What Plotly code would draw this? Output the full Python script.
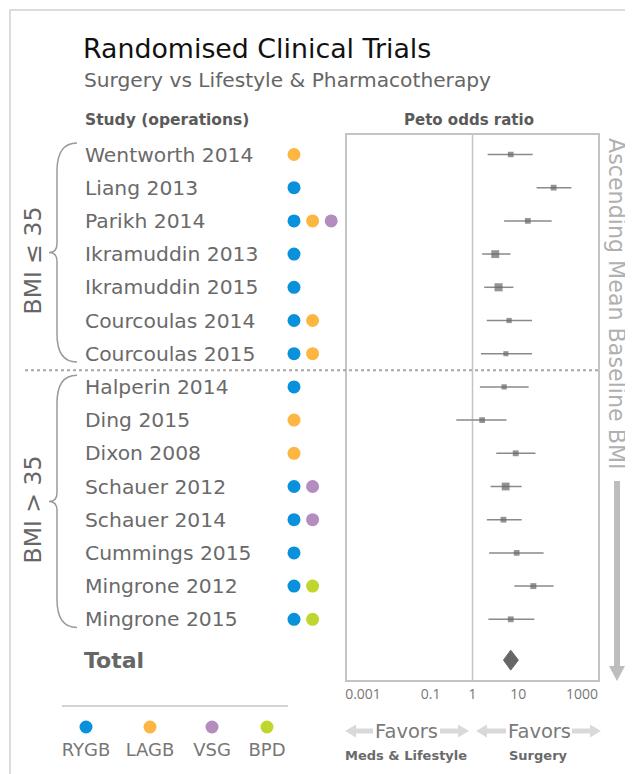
import plotly.graph_objects as go

# ---------------- data ----------------
studies = ["Wentworth 2014", "Liang 2013", "Parikh 2014", "Ikramuddin 2013",
           "Ikramuddin 2015", "Courcoulas 2014", "Courcoulas 2015",
           "Halperin 2014", "Ding 2015", "Dixon 2008", "Schauer 2012",
           "Schauer 2014", "Cummings 2015", "Mingrone 2012", "Mingrone 2015"]
operations = [["LAGB"], ["RYGB"], ["RYGB", "LAGB", "VSG"], ["RYGB"], ["RYGB"],
              ["RYGB", "LAGB"], ["RYGB", "LAGB"], ["RYGB"], ["LAGB"], ["LAGB"],
              ["RYGB", "VSG"], ["RYGB", "VSG"], ["RYGB"], ["RYGB", "BPD"],
              ["RYGB", "BPD"]]
odds_ratio = [8.2, 87, 21, 3.5, 4.2, 7.5, 6.3, 5.7, 1.7, 10.8, 6.2, 5.5, 11.4, 28.5, 8.2]
ci_low = [2.3, 34, 5.7, 1.7, 1.9, 2.2, 1.6, 1.5, 0.41, 3.7, 2.7, 2.2, 2.5, 10, 2.4]
ci_high = [27.5, 230, 78, 8.1, 9.5, 26.5, 26.5, 22, 6.5, 32, 15, 15, 50, 87, 30]
weight = [6.0, 6.2, 6.1, 9.5, 9.8, 5.2, 5.0, 5.3, 6.0, 6.3, 9.4, 6.1, 6.0, 6.4, 6.2]
total_label = "Total"
total_or = 8.2
total_low = 5.5
total_high = 12.5
op_types = ["RYGB", "LAGB", "VSG", "BPD"]
op_colors = {"RYGB": "#0a91dc", "LAGB": "#fdb641", "VSG": "#b48cc0", "BPD": "#c0d62f"}
groups = ["BMI ≤ 35", "BMI > 35"]
group_size = [7, 8]
tick_vals = [0.001, 0.1, 1, 10, 1000]
tick_text = ["\u2007\u2007\u2007\u20070.001", "0.1", "1", "\u200710", "1000\u2007\u2007\u2007\u2007"]

FONT = "DejaVu Sans"
TICKFONT = "Open Sans"
W, H = 633, 774
OFF = 8  # page offset of the figure on screen


def px(x):
    return (x - OFF) / W


def py(y):
    return 1 - (y - OFF) / H


n = len(studies)
rows = list(range(n))
total_row = n + 0.23
row0_px, row_h = 154.5, 33.2
box_top, box_bot, box_l, box_r = 134.5, 680, 347, 598
y_top = (box_top - row0_px) / row_h
y_bot = (box_bot - row0_px) / row_h

fig = go.Figure()

# reference line at OR = 1
fig.add_trace(go.Scatter(x=[1, 1], y=[-10, 30], mode="lines",
                         line=dict(color="#c4c4c4", width=1.5),
                         hoverinfo="skip", showlegend=False))

# study estimates with CIs
fig.add_trace(go.Scatter(
    x=odds_ratio, y=rows, mode="markers",
    marker=dict(symbol="square", color="#666666",
                size=[2 + 0.62 * w for w in weight], line=dict(width=0)),
    error_x=dict(type="data", symmetric=False,
                 array=[h - e for h, e in zip(ci_high, odds_ratio)],
                 arrayminus=[e - l for e, l in zip(odds_ratio, ci_low)],
                 color="#8a8a8a", thickness=1.5, width=0),
    showlegend=False, hoverinfo="skip"))

# pooled diamond
dh = 0.3
fig.add_trace(go.Scatter(
    x=[total_low, total_or, total_high, total_or, total_low],
    y=[total_row, total_row - dh, total_row, total_row + dh, total_row],
    mode="lines", fill="toself", fillcolor="#666666",
    line=dict(color="#666666", width=1), showlegend=False, hoverinfo="skip"))

# operation dots per study
for op in op_types:
    xs, ys = [], []
    for i, ops in enumerate(operations):
        if op in ops:
            xs.append(ops.index(op))
            ys.append(i)
    fig.add_trace(go.Scatter(x=xs, y=ys, xaxis="x3", yaxis="y", mode="markers",
                             marker=dict(color=op_colors[op], size=13),
                             showlegend=False, hoverinfo="skip"))

# legend (operations key)
leg_x = [86, 150, 212, 267]
fig.add_trace(go.Scatter(x=leg_x, y=[727] * 4, xaxis="x2", yaxis="y2",
                         mode="markers",
                         marker=dict(color=[op_colors[o] for o in op_types], size=13),
                         showlegend=False, hoverinfo="skip"))
fig.add_trace(go.Scatter(x=leg_x, y=[751] * 4, xaxis="x2", yaxis="y2",
                         mode="text", text=op_types,
                         textfont=dict(family=FONT, size=18, color="#777777"),
                         showlegend=False, hoverinfo="skip"))

annotations = []
shapes = []

# study labels
for i, s in enumerate(studies):
    annotations.append(dict(xref="paper", yref="y", x=px(83), y=i, text=s,
                            xanchor="left", yanchor="middle", showarrow=False,
                            font=dict(family=FONT, size=20.3, color="#6a6a6a")))
annotations.append(dict(xref="paper", yref="y", x=px(82), y=total_row,
                        text="<b>" + total_label + "</b>",
                        xanchor="left", yanchor="middle", showarrow=False,
                        font=dict(family=FONT, size=22, color="#666666")))


def txt(x, y, text, size, color, anchor="left", bold=False, angle=0):
    return dict(xref="paper", yref="paper", x=px(x), y=py(y),
                text=("<b>%s</b>" % text) if bold else text, textangle=angle,
                xanchor=anchor, yanchor="middle", showarrow=False,
                font=dict(family=FONT, size=size, color=color))


annotations += [
    txt(81, 48, "Randomised Clinical Trials", 26.8, "#111111"),
    txt(82, 80, "Surgery vs Lifestyle &amp; Pharmacotherapy", 20.2, "#666666"),
    txt(83, 120, "Study (operations)", 15.5, "#5a5a5a", bold=True),
    txt(469, 120, "Peto odds ratio", 15, "#5a5a5a", anchor="center", bold=True),
    txt(617, 304, "Ascending Mean Baseline BMI", 22.2, "#b0b0b0", anchor="center", angle=90),
    txt(406, 731, "Favors", 19.5, "#7a7a7a", anchor="center"),
    txt(539, 731, "Favors", 19.5, "#7a7a7a", anchor="center"),
    txt(406, 755, "Meds &amp; Lifestyle", 13, "#6a6a6a", anchor="center", bold=True),
    txt(538, 755, "Surgery", 13, "#6a6a6a", anchor="center", bold=True),
]

# group labels and braces
start = 0
for g, size in zip(groups, group_size):
    r0, r1 = start - 0.35, start + size - 1 + 0.25
    y0 = row0_px + row_h * r0
    y1 = row0_px + row_h * r1
    ym = (y0 + y1) / 2
    annotations.append(txt(33, ym + 8, g, 23.5, "#666666", anchor="center", angle=-90))
    xe, xm, xt, r, r2 = 77, 57, 49, 28, 9
    path = (f"M {xe},{y0} Q {xm},{y0} {xm},{y0 + r} L {xm},{ym - r2} "
            f"Q {xm},{ym} {xt},{ym} Q {xm},{ym} {xm},{ym + r2} "
            f"L {xm},{y1 - r} Q {xm},{y1} {xe},{y1}")
    shapes.append(dict(type="path", xref="x2", yref="y2", path=path,
                       line=dict(color="#9a9a9a", width=1.5)))
    start += size

# dotted separator between groups
shapes.append(dict(type="line", xref="paper", yref="y",
                   x0=px(25), x1=px(600), y0=group_size[0] - 0.5, y1=group_size[0] - 0.5,
                   line=dict(color="#a8a8a8", width=2, dash="dot")))

# outer frame
shapes.append(dict(type="rect", xref="x2", yref="y2", x0=10, x1=629, y0=10, y1=800,
                   line=dict(color="#dcdcdc", width=2)))
# legend separator
shapes.append(dict(type="line", xref="x2", yref="y2", x0=62, x1=288, y0=706, y1=706,
                   line=dict(color="#d4d4d4", width=2)))


def h_arrow(x_tail, x_tip, y, shaft=2.6, head_len=11, head_half=6.5):
    d = 1 if x_tip > x_tail else -1
    xb = x_tip - d * head_len
    return (f"M {x_tail},{y - shaft} L {xb},{y - shaft} L {xb},{y - head_half} "
            f"L {x_tip},{y} L {xb},{y + head_half} L {xb},{y + shaft} "
            f"L {x_tail},{y + shaft} Z")


arrow_col = "#d9d9d9"
for tail, tip in [(373, 345), (440, 469), (506, 476), (572, 601)]:
    shapes.append(dict(type="path", xref="x2", yref="y2", path=h_arrow(tail, tip, 731),
                       fillcolor=arrow_col, line=dict(width=0)))

# vertical arrow on the right
vx, vy0, vy1 = 617, 481, 681
shapes.append(dict(type="path", xref="x2", yref="y2",
                   path=(f"M {vx - 3},{vy0} L {vx + 3},{vy0} L {vx + 3},{vy1 - 15} "
                         f"L {vx + 8},{vy1 - 15} L {vx},{vy1} L {vx - 8},{vy1 - 15} "
                         f"L {vx - 3},{vy1 - 15} Z"),
                   fillcolor="#bdbdbd", line=dict(width=0)))

fig.update_layout(
    width=W, height=H, autosize=False, margin=dict(l=0, r=0, t=0, b=0, autoexpand=False),
    paper_bgcolor="white", plot_bgcolor="rgba(0,0,0,0)",
    font=dict(family=FONT), showlegend=False,
    xaxis=dict(type="log", range=[-3, 3], domain=[px(box_l), px(box_r)], anchor="y",
               tickvals=tick_vals, ticktext=tick_text, showgrid=False, zeroline=False,
               showline=True, mirror=True, linecolor="#c4c4c4", linewidth=1.5,
               ticks="", automargin=False,
               tickfont=dict(family=TICKFONT, size=14, color="#777777")),
    yaxis=dict(range=[y_bot, y_top], domain=[py(box_bot), py(box_top)], anchor="x",
               showgrid=False, zeroline=False, showticklabels=False, ticks="",
               showline=True, mirror=True, linecolor="#c4c4c4", linewidth=1.5,
               automargin=False),
    xaxis2=dict(range=[OFF, OFF + W], domain=[0, 1], anchor="y2", visible=False,
                automargin=False),
    yaxis2=dict(range=[OFF + H, OFF], domain=[0, 1], anchor="x2", visible=False,
                automargin=False),
    xaxis3=dict(range=[(270 - 294) / 18.6, (345 - 294) / 18.6],
                domain=[px(270), px(345)], anchor="y", visible=False, automargin=False),
    annotations=annotations, shapes=shapes,
)

fig.write_html("out.html")
